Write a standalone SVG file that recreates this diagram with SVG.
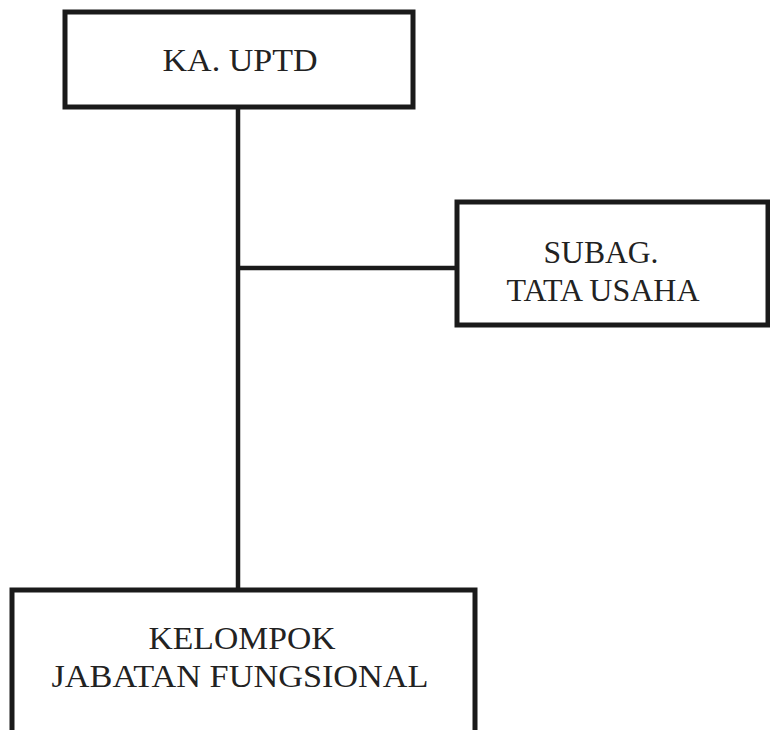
<svg xmlns="http://www.w3.org/2000/svg" width="770" height="730" viewBox="0 0 770 730">
<style>
.box{fill:#fff;stroke:#1a1a1a;stroke-width:5}
.ln{stroke:#1a1a1a;stroke-width:4.5;fill:none}
text{font-family:"Liberation Serif","Times New Roman",serif;font-size:31px;fill:#222;text-anchor:middle}
</style>
<rect width="770" height="730" fill="#fff"/>
<g id="connectors">
<line class="ln" x1="238" y1="107" x2="238" y2="590"/>
<line class="ln" x1="238" y1="268" x2="457" y2="268"/>
</g>
<g id="ka-uptd">
<rect class="box" x="65" y="12" width="348" height="95"/>
<text x="240" y="71" textLength="155" lengthAdjust="spacingAndGlyphs">KA. UPTD</text>
</g>
<g id="subag">
<rect class="box" x="457" y="202" width="311" height="123"/>
<text x="601" y="263" textLength="115" lengthAdjust="spacingAndGlyphs">SUBAG.</text>
<text x="603" y="301" textLength="193" lengthAdjust="spacingAndGlyphs">TATA USAHA</text>
</g>
<g id="kelompok">
<rect class="box" x="12" y="590" width="463" height="145"/>
<text x="242" y="649" textLength="187" lengthAdjust="spacingAndGlyphs">KELOMPOK</text>
<text x="240" y="687" textLength="377" lengthAdjust="spacingAndGlyphs">JABATAN FUNGSIONAL</text>
</g>
</svg>
